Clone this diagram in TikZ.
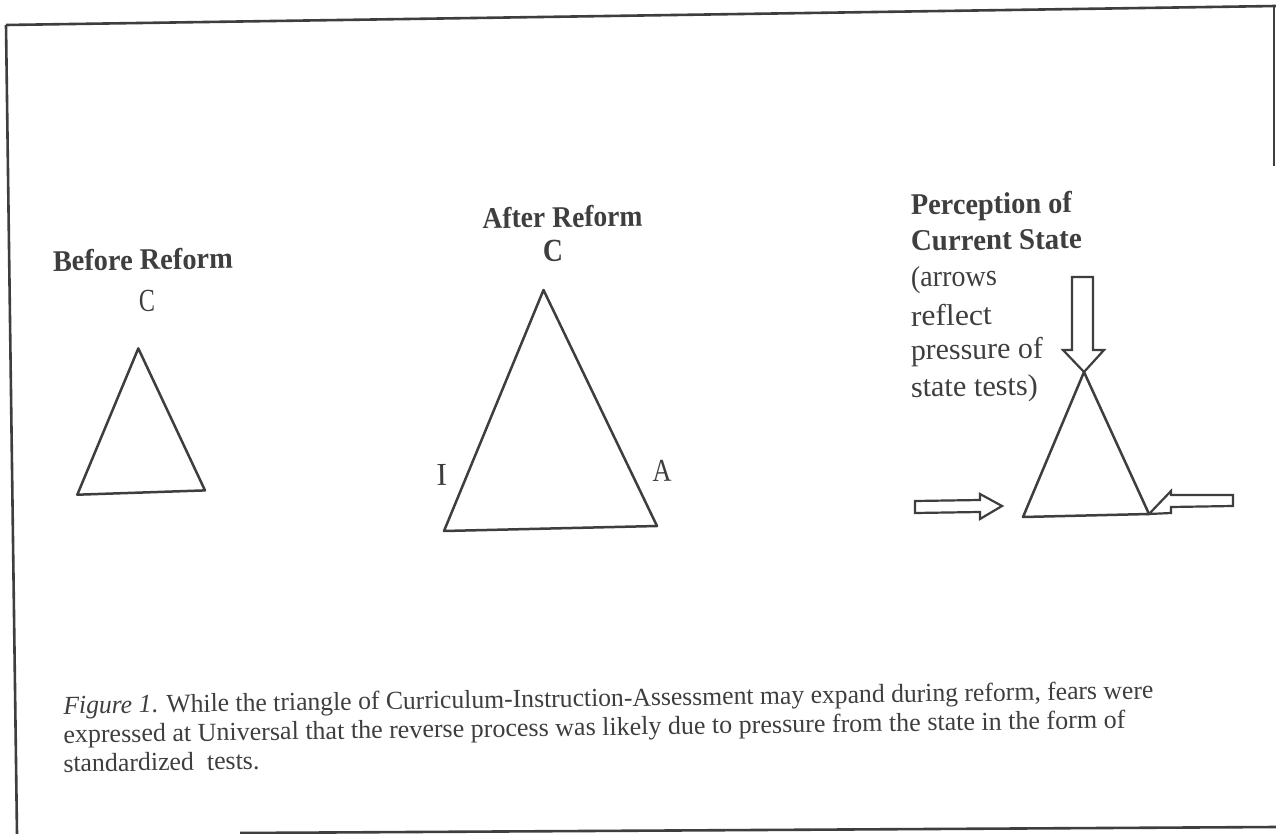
\documentclass[tikz,border=0pt]{standalone}
\usepackage{fontspec}
\setmainfont{Liberation Serif}
\usepackage{graphicx}
\definecolor{inkc}{RGB}{62,62,62}
\newsavebox\fitbox
\newcommand\fitto[2]{\sbox\fitbox{#2}\pgfmathsetmacro\fitfac{#1/\the\wd\fitbox}\scalebox{\fitfac}[1]{\usebox\fitbox}}
\tikzset{
  lbl/.style={inner sep=0pt, outer sep=0pt, text=inkc, rotate=0.8},
  hdtxt/.style={lbl, font=\fontsize{30}{30}\selectfont\bfseries},
  plaintxt/.style={lbl, font=\fontsize{30}{30}\selectfont},
  vtxtxt/.style={lbl, font=\fontsize{32}{32}\selectfont},
  captxt/.style={lbl, font=\fontsize{26}{26}\selectfont},
  triline/.style={draw=inkc, line width=2.5pt, line join=round, line cap=round},
  framebox/.style={draw=inkc, line width=2.6pt},
  blockarrow/.style={draw=inkc, line width=2.2pt, line join=miter, fill=white}
}
\begin{document}
\begin{tikzpicture}[x=1pt,y=-1pt]
\useasboundingbox (0,0) rectangle (1276,834);
\fill[white] (0,0) rectangle (1276,834);

% frame (scanned, slightly skewed)
\coordinate (fTL) at (6,25);
\coordinate (fTR) at (1276,6);
\coordinate (fBL) at (17,834);
\coordinate (fRT) at (1274,6);
\coordinate (fRB) at (1274,166);
\coordinate (fB1) at (240,833);
\coordinate (fB2) at (1276,827);
\draw[framebox] (fTL) -- (fTR);
\draw[framebox] (fTL) -- (fBL);
\draw[framebox] (fRT) -- (fRB);
\draw[framebox] (fB1) -- (fB2);

% Before Reform
\node[hdtxt, anchor=base west] (before) at (53,271) {\fitto{180pt}{Before Reform}};
\node[vtxtxt, anchor=base] (c1) at (147,311.5) {\fitto{16pt}{C}};
\coordinate (b1) at (138.3,348.4);
\coordinate (b2) at (77.3,494.7);
\coordinate (b3) at (205,490.4);
\draw[triline] (b1) -- (b2) -- (b3) -- cycle;

% After Reform
\node[hdtxt, anchor=base west] (after) at (482.7,228.3) {\fitto{160pt}{After Reform}};
\node[vtxtxt, font=\fontsize{32}{32}\selectfont\bfseries, anchor=base] (c2) at (553,261.7) {\fitto{20pt}{C}};
\coordinate (a1) at (543.5,290);
\coordinate (a2) at (444,531);
\coordinate (a3) at (657,526);
\draw[triline] (a1) -- (a2) -- (a3) -- cycle;
\node[vtxtxt, anchor=base] (ilbl) at (442,485) {I};
\node[vtxtxt, anchor=base] (albl) at (662,481.7) {\fitto{19pt}{A}};

% Perception of Current State
\node[hdtxt, anchor=base west] (p1) at (911,215) {\fitto{161pt}{Perception of}};
\node[hdtxt, anchor=base west] (p2) at (911,251) {\fitto{171pt}{Current State}};
\node[plaintxt, anchor=base west] (p3) at (911,287) {\fitto{86pt}{(arrows}};
\node[plaintxt, anchor=base west] (p4) at (911,326) {\fitto{81pt}{reflect}};
\node[plaintxt, anchor=base west] (p5) at (911,360) {\fitto{132pt}{pressure of}};
\node[plaintxt, anchor=base west] (p6) at (911,397) {\fitto{127pt}{state tests)}};

\coordinate (r1) at (1084,372);
\coordinate (r2) at (1023,517);
\coordinate (r3) at (1149,514);
\draw[triline] (r1) -- (r2) -- (r3) -- cycle;

% block arrows (pressure)
\draw[blockarrow] (1072,277) -- (1093,277) -- (1093,350) -- (1104,350) -- (r1)
   -- (1063,350) -- (1072,350) -- cycle;
\draw[blockarrow] (915,501) -- (980,500) -- (980,494) -- (1002,506) -- (980,519)
   -- (980,512) -- (915,513) -- cycle;
\draw[blockarrow] (1233,495) -- (1171,495) -- (1171,491) -- (r3) -- (1171,513)
   -- (1171,507) -- (1233,506) -- cycle;

% caption
\node[captxt, anchor=base west] (cap1) at (63.5,714) {\fitto{1090pt}{\textit{Figure 1}. While the triangle of Curriculum-Instruction-Assessment may expand during reform, fears were}};
\node[captxt, anchor=base west] (cap2) at (63.5,743) {\fitto{1062pt}{expressed at Universal that the reverse process was likely due to pressure from the state in the form of}};
\node[captxt, anchor=base west] (cap3) at (63.5,772) {\fitto{196pt}{standardized\ \ tests.}};
\end{tikzpicture}
\end{document}
